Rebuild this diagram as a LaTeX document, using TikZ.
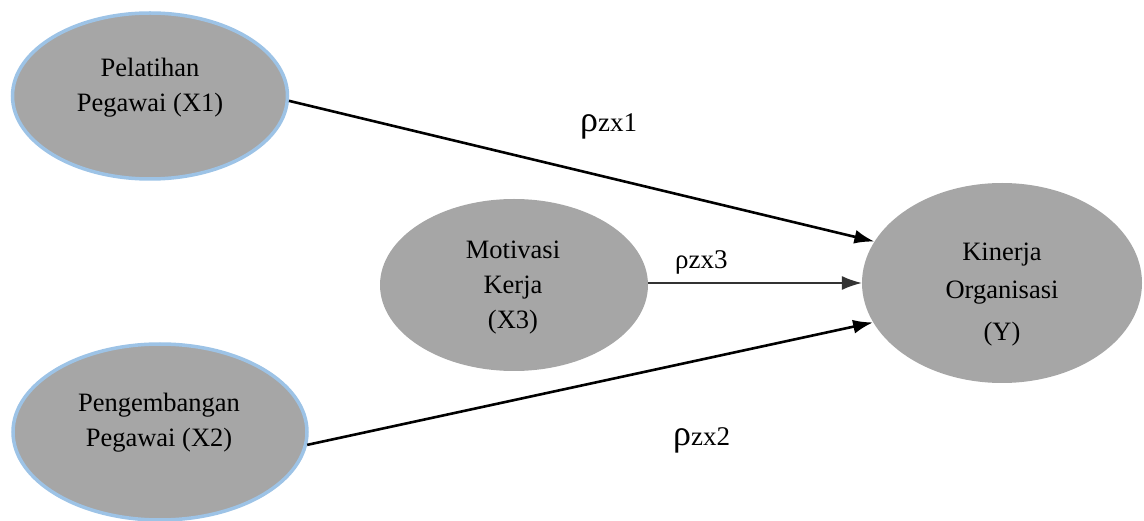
\documentclass[tikz,border=0pt]{standalone}
\usepackage{fontspec}
\setmainfont{Liberation Serif}
\usetikzlibrary{shapes.geometric,arrows.meta}
\definecolor{ovalgray}{HTML}{A6A6A6}
\definecolor{ovalblue}{HTML}{9DC3E6}
\tikzset{
  oval/.style={ellipse, fill=ovalgray, inner sep=0pt},
  bluerim/.style={draw=ovalblue, line width=3.5pt},
  ovaltext/.style={align=center, font=\fontsize{26.5}{35}\selectfont, inner sep=0pt},
  path/.style={line width=2.6pt, -{Latex[length=20pt,width=14pt]}},
  thinpath/.style={line width=1.4pt, draw=black!80, -{Latex[length=20pt,width=14pt]}},
  coef/.style={anchor=base west, inner sep=0pt, font=\fontsize{27}{27}\selectfont}
}
\begin{document}
\begin{tikzpicture}[x=1pt,y=-1pt]
\useasboundingbox (0,0) rectangle (1144,521);
% ovals
\node[oval, bluerim, minimum width=275pt, minimum height=166pt] (x1) at (150,96) {};
\node[oval, bluerim, minimum width=294pt, minimum height=176pt] (x2) at (160,432) {};
\node[oval, minimum width=268pt, minimum height=172pt] (x3) at (514,285) {};
\node[oval, minimum width=280pt, minimum height=200pt] (y) at (1002,283) {};
% texts
\node[ovaltext] (t1) at (150,88) {Pelatihan\\Pegawai (X1)};
\node[ovaltext] (t2) at (159,423) {Pengembangan\\Pegawai (X2)};
\node[ovaltext] (t3) at (513,288) {Motivasi\\Kerja\\(X3)};
\node[ovaltext] (ty) at (1002,295) {Kinerja\\[3pt]Organisasi\\[7pt](Y)};
% connectors
\draw[path] (x1.-2) -- (y.162.5);
\draw[path] (x2.-5) -- (y.197);
\draw[thinpath] (x3.east |- y.west) -- (y.west);
% coefficients
\node[coef] (c1) at (580,132) {{\fontsize{36}{36}\selectfont ρ}zx1};
\node[coef] (c3) at (675,269) {ρzx3};
\node[coef] (c2) at (673,446) {{\fontsize{36}{36}\selectfont ρ}zx2};
\end{tikzpicture}
\end{document}
